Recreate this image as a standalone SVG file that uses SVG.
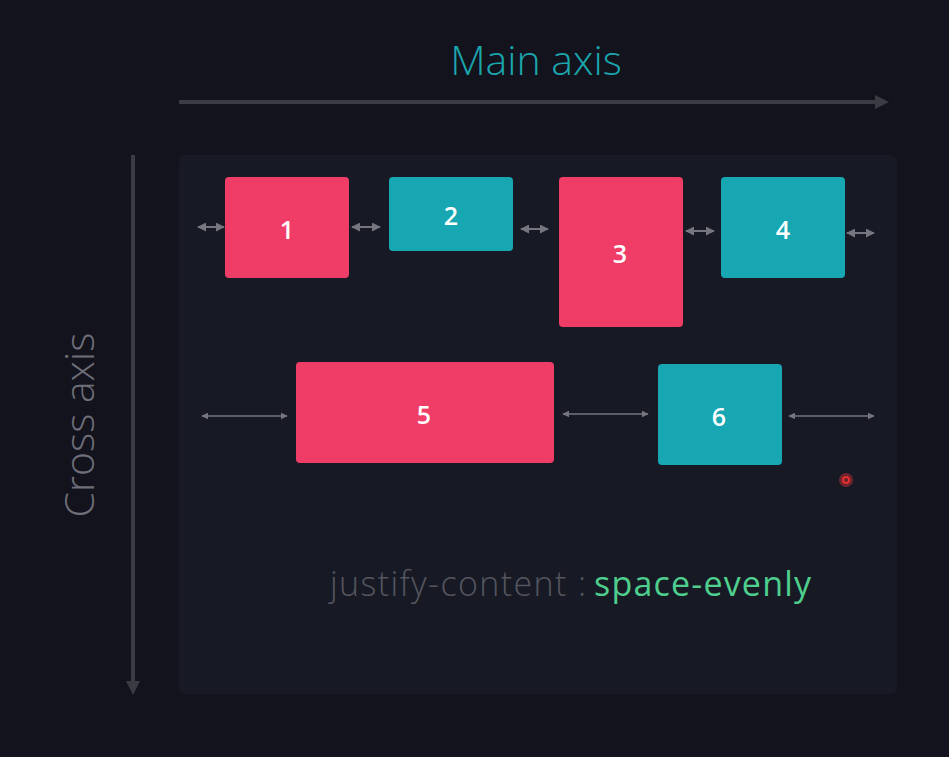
<svg xmlns="http://www.w3.org/2000/svg" width="949" height="757" viewBox="0 0 949 757">
<style>
.pink{fill:#ef3d67}
.teal{fill:#16a7b3}
.num{fill:#ffffff;font-family:"Open Sans","Noto Sans",sans-serif;font-size:25px;font-weight:600;text-anchor:middle;dominant-baseline:central}
.gap{stroke:#75767f;stroke-width:1.5;fill:none;marker-start:url(#ah);marker-end:url(#ah)}
.gapS{stroke:#75767f;stroke-width:2;fill:none;marker-start:url(#ah2);marker-end:url(#ah2)}
.axis{stroke:#3b3b44;stroke-width:4;fill:none}
.lbl{font-family:"Open Sans","Noto Sans",sans-serif;font-weight:300}
</style>
<defs>
<marker id="ah" viewBox="0 0 10 10" refX="9" refY="5" markerWidth="7" markerHeight="7" orient="auto-start-reverse" markerUnits="userSpaceOnUse"><path d="M0,0 L10,5 L0,10 z" fill="#75767f"/></marker>
<marker id="ah2" viewBox="0 0 10 10" refX="9" refY="5" markerWidth="9" markerHeight="9" orient="auto-start-reverse" markerUnits="userSpaceOnUse"><path d="M0,0 L10,5 L0,10 z" fill="#75767f"/></marker>
<marker id="axh" viewBox="0 0 10 10" refX="5" refY="5" markerWidth="14" markerHeight="14" orient="auto" markerUnits="userSpaceOnUse"><path d="M0,0 L10,5 L0,10 z" fill="#3b3b44"/></marker>
</defs>
<rect width="949" height="757" fill="#13131d"/>
<g id="axes">
<line class="axis" x1="179" y1="102" x2="882" y2="102" marker-end="url(#axh)"/>
<text class="lbl" x="536" y="75" font-size="41" fill="#1ba6ae" text-anchor="middle">Main axis</text>
<line class="axis" x1="133" y1="155" x2="133" y2="688" marker-end="url(#axh)"/>
<text class="lbl" x="94" y="425" font-size="41" fill="#6f6f79" text-anchor="middle" transform="rotate(-90 94 425)">Cross axis</text>
</g>
<g id="container"><rect x="179" y="155" width="718" height="539" rx="6" fill="#171a24"/></g>
<g id="connectors">
<line class="gapS" x1="198" y1="227" x2="224" y2="227"/>
<line class="gapS" x1="352" y1="227" x2="380" y2="227"/>
<line class="gapS" x1="521" y1="229" x2="548" y2="229"/>
<line class="gapS" x1="686" y1="231" x2="714" y2="231"/>
<line class="gapS" x1="847" y1="233" x2="874" y2="233"/>
<line class="gap" x1="202" y1="416" x2="287" y2="416"/>
<line class="gap" x1="563" y1="414" x2="648" y2="414"/>
<line class="gap" x1="789" y1="416" x2="874" y2="416"/>
</g>
<g id="n1"><rect class="pink" x="225" y="177" width="124" height="101" rx="4"/><text class="num" x="287" y="229">1</text></g>
<g id="n2"><rect class="teal" x="389" y="177" width="124" height="74" rx="4"/><text class="num" x="451" y="215">2</text></g>
<g id="n3"><rect class="pink" x="559" y="177" width="124" height="150" rx="4"/><text class="num" x="620" y="253">3</text></g>
<g id="n4"><rect class="teal" x="721" y="177" width="124" height="101" rx="4"/><text class="num" x="783" y="229">4</text></g>
<g id="n5"><rect class="pink" x="296" y="362" width="258" height="101" rx="4"/><text class="num" x="424" y="414">5</text></g>
<g id="n6"><rect class="teal" x="658" y="364" width="124" height="101" rx="4"/><text class="num" x="719" y="416">6</text></g>
<g id="caption">
<text class="lbl" x="330" y="596" font-size="34" fill="#55555f" textLength="256" lengthAdjust="spacing">justify-content :</text>
<text class="lbl" x="594" y="596" font-size="34" fill="#4ecf8e" textLength="217" lengthAdjust="spacing" style="font-weight:400">space-evenly</text>
</g>
<g id="cursor"><circle cx="846" cy="480" r="7" fill="#e0303a" opacity="0.45"/><circle cx="846" cy="480" r="3" fill="none" stroke="#ff3030" stroke-width="1.5"/></g>
</svg>
